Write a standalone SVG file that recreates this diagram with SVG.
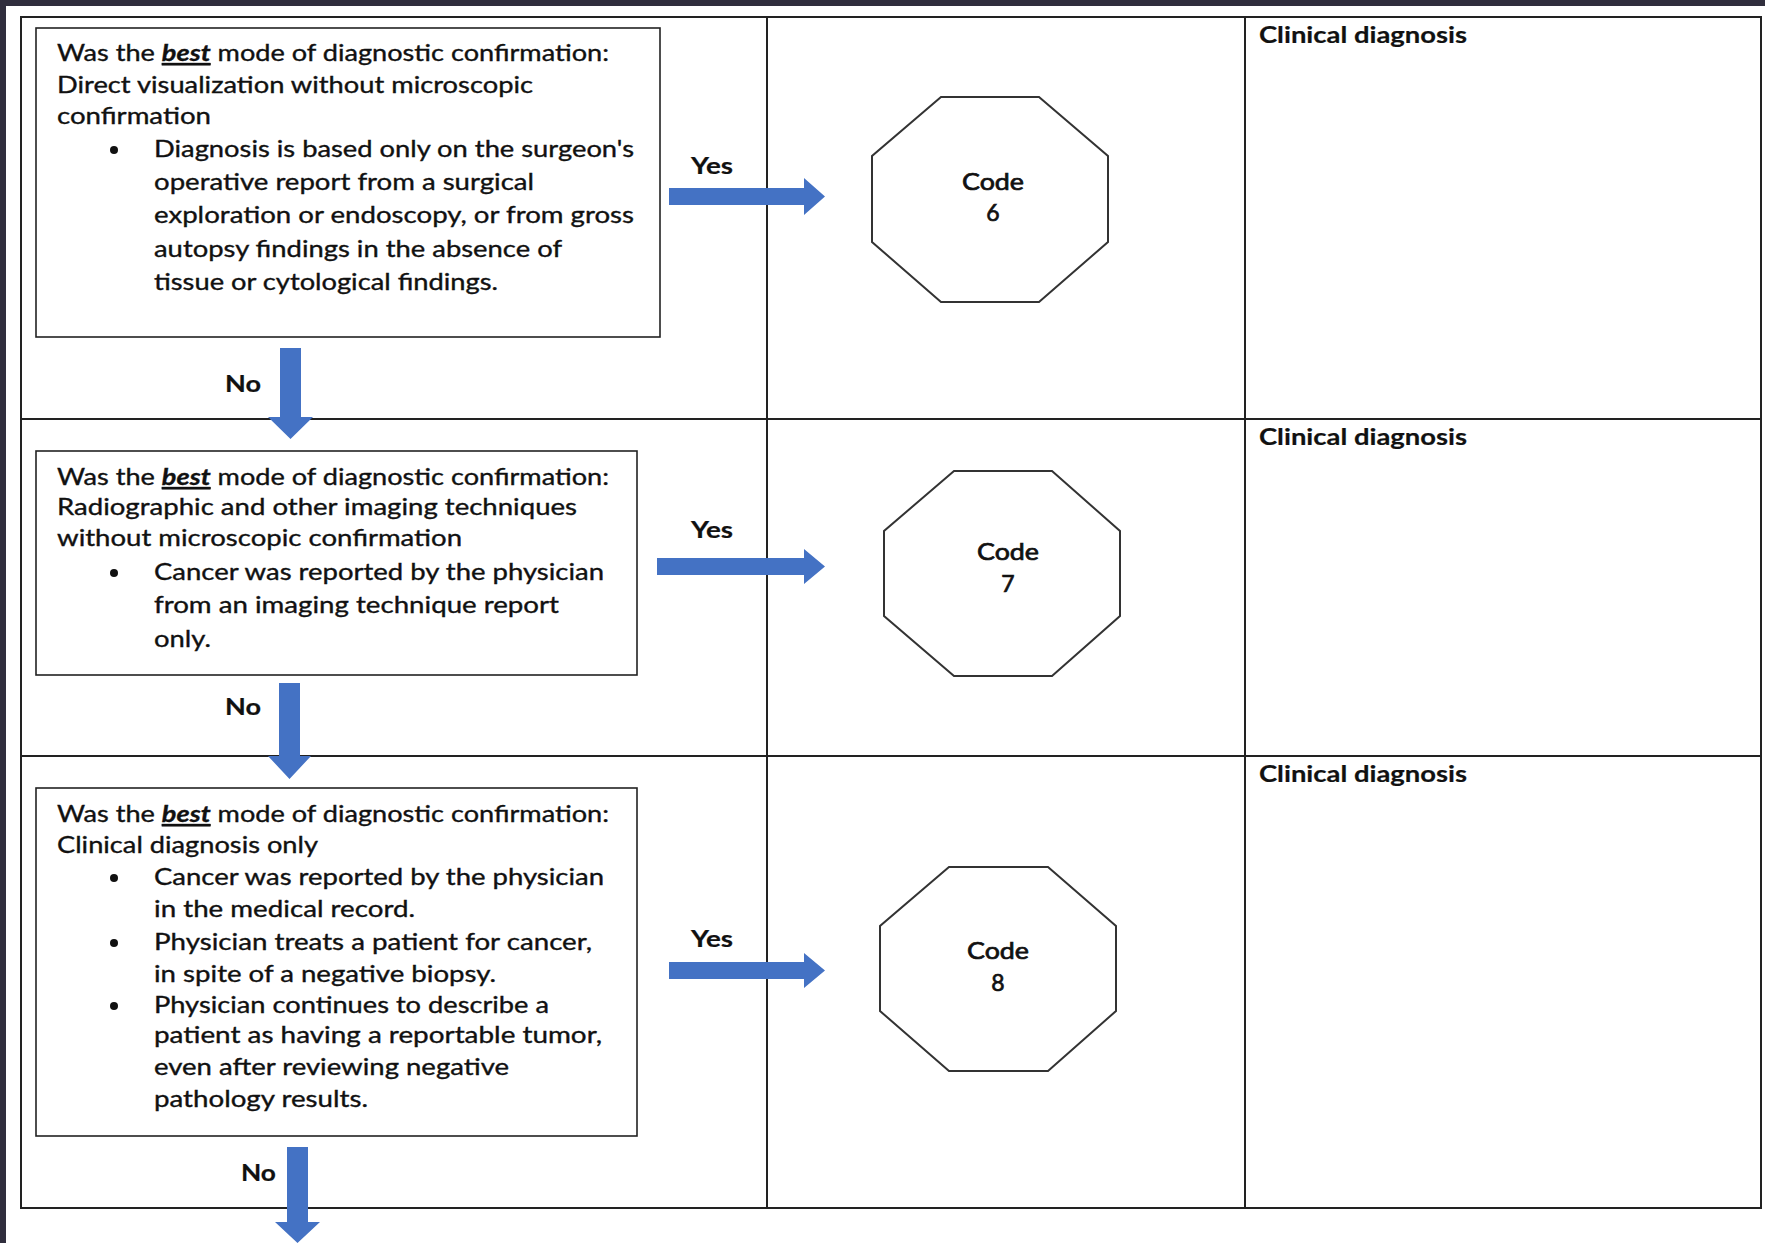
<svg xmlns="http://www.w3.org/2000/svg" width="1765" height="1243" viewBox="0 0 1765 1243">
<style>
.t{font-family:Lato,"Liberation Sans",sans-serif;font-size:23px;fill:#111;stroke:#111;stroke-width:0.35}
.b{font-weight:bold;stroke-width:0.2}
.m{stroke-width:0.7}
.best{font-weight:bold;font-style:italic;text-decoration:underline}
.box{fill:#fff;stroke:#222;stroke-width:1.6}
.tbl{stroke:#222;stroke-width:2;fill:none}
.oct{fill:#fff;stroke:#333;stroke-width:2}
.arr{fill:#4472C4}
.ctr{text-anchor:middle}
</style>
<rect x="0" y="0" width="1765" height="1243" fill="#fff"/>
<rect x="0" y="0" width="1765" height="6" fill="#302e3d"/>
<rect x="0" y="0" width="6" height="1243" fill="#302e3d"/>
<g id="table">
<rect class="tbl" x="21" y="17" width="1740" height="1191"/>
<line class="tbl" x1="21" y1="419" x2="1761" y2="419"/>
<line class="tbl" x1="21" y1="756" x2="1761" y2="756"/>
<line class="tbl" x1="767" y1="17" x2="767" y2="1208"/>
<line class="tbl" x1="1245" y1="17" x2="1245" y2="1208"/>
</g>
<g id="label-clinical-1"><text class="t b" x="1259" y="43" textLength="208" lengthAdjust="spacingAndGlyphs">Clinical diagnosis</text></g>
<g id="label-clinical-2"><text class="t b" x="1259" y="445" textLength="208" lengthAdjust="spacingAndGlyphs">Clinical diagnosis</text></g>
<g id="label-clinical-3"><text class="t b" x="1259" y="782" textLength="208" lengthAdjust="spacingAndGlyphs">Clinical diagnosis</text></g>
<g id="q1">
<rect class="box" x="36" y="28" width="624" height="309"/>
<text class="t" x="57" y="61" textLength="552" lengthAdjust="spacingAndGlyphs">Was the <tspan class="best">best</tspan> mode of diagnostic confirmation:</text>
<text class="t" x="57" y="93" textLength="476" lengthAdjust="spacingAndGlyphs">Direct visualization without microscopic</text>
<text class="t" x="57" y="124" textLength="154" lengthAdjust="spacingAndGlyphs">confirmation</text>
<circle cx="114" cy="150" r="4" fill="#111"/>
<text class="t" x="154" y="157" textLength="480" lengthAdjust="spacingAndGlyphs">Diagnosis is based only on the surgeon's</text>
<text class="t" x="154" y="190" textLength="380" lengthAdjust="spacingAndGlyphs">operative report from a surgical</text>
<text class="t" x="154" y="223" textLength="480" lengthAdjust="spacingAndGlyphs">exploration or endoscopy, or from gross</text>
<text class="t" x="154" y="257" textLength="408" lengthAdjust="spacingAndGlyphs">autopsy findings in the absence of</text>
<text class="t" x="154" y="290" textLength="344" lengthAdjust="spacingAndGlyphs">tissue or cytological findings.</text>
</g>
<g id="q2">
<rect class="box" x="36" y="451" width="601" height="224"/>
<text class="t" x="57" y="485" textLength="552" lengthAdjust="spacingAndGlyphs">Was the <tspan class="best">best</tspan> mode of diagnostic confirmation:</text>
<text class="t" x="57" y="515" textLength="520" lengthAdjust="spacingAndGlyphs">Radiographic and other imaging techniques</text>
<text class="t" x="57" y="546" textLength="405" lengthAdjust="spacingAndGlyphs">without microscopic confirmation</text>
<circle cx="114" cy="573" r="4" fill="#111"/>
<text class="t" x="154" y="580" textLength="450" lengthAdjust="spacingAndGlyphs">Cancer was reported by the physician</text>
<text class="t" x="154" y="613" textLength="405" lengthAdjust="spacingAndGlyphs">from an imaging technique report</text>
<text class="t" x="154" y="647" textLength="57" lengthAdjust="spacingAndGlyphs">only.</text>
</g>
<g id="q3">
<rect class="box" x="36" y="788" width="601" height="348"/>
<text class="t" x="57" y="822" textLength="552" lengthAdjust="spacingAndGlyphs">Was the <tspan class="best">best</tspan> mode of diagnostic confirmation:</text>
<text class="t" x="57" y="853" textLength="261" lengthAdjust="spacingAndGlyphs">Clinical diagnosis only</text>
<circle cx="114" cy="878" r="4" fill="#111"/>
<text class="t" x="154" y="885" textLength="450" lengthAdjust="spacingAndGlyphs">Cancer was reported by the physician</text>
<text class="t" x="154" y="917" textLength="261" lengthAdjust="spacingAndGlyphs">in the medical record.</text>
<circle cx="114" cy="943" r="4" fill="#111"/>
<text class="t" x="154" y="950" textLength="438" lengthAdjust="spacingAndGlyphs">Physician treats a patient for cancer,</text>
<text class="t" x="154" y="982" textLength="342" lengthAdjust="spacingAndGlyphs">in spite of a negative biopsy.</text>
<circle cx="114" cy="1006" r="4" fill="#111"/>
<text class="t" x="154" y="1013" textLength="395" lengthAdjust="spacingAndGlyphs">Physician continues to describe a</text>
<text class="t" x="154" y="1043" textLength="448" lengthAdjust="spacingAndGlyphs">patient as having a reportable tumor,</text>
<text class="t" x="154" y="1075" textLength="355" lengthAdjust="spacingAndGlyphs">even after reviewing negative</text>
<text class="t" x="154" y="1107" textLength="214" lengthAdjust="spacingAndGlyphs">pathology results.</text>
</g>
<g id="code6">
<polygon class="oct" points="941,97 1039,97 1108,156 1108,242 1039,302 941,302 872,242 872,156"/>
<text class="t m" x="962" y="190" textLength="62" lengthAdjust="spacingAndGlyphs">Code</text>
<text class="t m ctr" x="993" y="221">6</text>
</g>
<g id="code7">
<polygon class="oct" points="954,471 1052,471 1120,531 1120,616 1052,676 954,676 884,616 884,531"/>
<text class="t m" x="977" y="560" textLength="62" lengthAdjust="spacingAndGlyphs">Code</text>
<text class="t m ctr" x="1008" y="592">7</text>
</g>
<g id="code8">
<polygon class="oct" points="949,867 1048,867 1116,926 1116,1011 1048,1071 949,1071 880,1011 880,926"/>
<text class="t m" x="967" y="959" textLength="62" lengthAdjust="spacingAndGlyphs">Code</text>
<text class="t m ctr" x="998" y="991">8</text>
</g>
<g id="connectors">
<polygon class="arr" points="669,188 804,188 804,178 825,196.5 804,215 804,205 669,205"/>
<polygon class="arr" points="657,558 804,558 804,549 825,566.5 804,584 804,575 657,575"/>
<polygon class="arr" points="669,962 804,962 804,953 825,970.5 804,988 804,979 669,979"/>
<polygon class="arr" points="280,348 301,348 301,417 313,417 290.5,439 268,417 280,417"/>
<polygon class="arr" points="279,683 300,683 300,756 311,756 289.5,779 268,756 279,756"/>
<polygon class="arr" points="287,1147 308,1147 308,1222 320,1222 297.5,1243 275,1222 287,1222"/>
<text class="t b" x="691" y="174" textLength="42" lengthAdjust="spacingAndGlyphs">Yes</text>
<text class="t b" x="691" y="538" textLength="42" lengthAdjust="spacingAndGlyphs">Yes</text>
<text class="t b" x="691" y="947" textLength="42" lengthAdjust="spacingAndGlyphs">Yes</text>
<text class="t b" x="225" y="392" textLength="36" lengthAdjust="spacingAndGlyphs">No</text>
<text class="t b" x="225" y="715" textLength="36" lengthAdjust="spacingAndGlyphs">No</text>
<text class="t b" x="241" y="1181" textLength="35" lengthAdjust="spacingAndGlyphs">No</text>
</g>
</svg>
